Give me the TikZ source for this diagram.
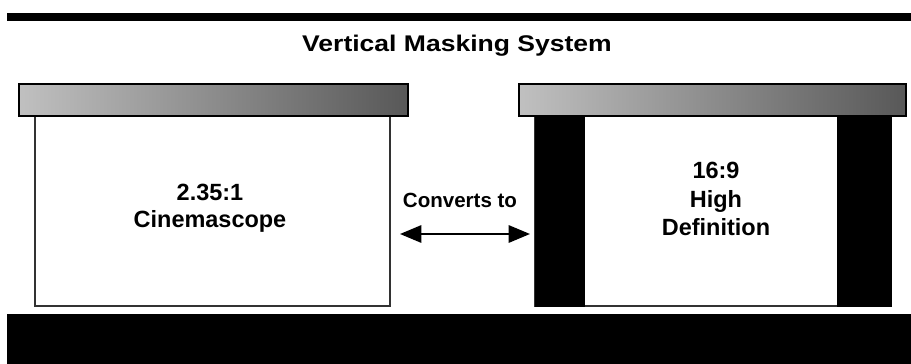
\documentclass[tikz,border=0pt]{standalone}
\usepackage{fontspec}
\setmainfont{Liberation Sans}
\usepackage{graphicx}
\usetikzlibrary{arrows.meta}

\definecolor{barlight}{RGB}{192,192,192}
\definecolor{bardark}{RGB}{88,88,88}
\definecolor{frame}{RGB}{50,50,50}

\tikzset{
  maskbar/.style={draw=black, line width=1.5pt, left color=barlight, right color=bardark},
  screen/.style={draw=frame, line width=1.5pt, fill=white},
  label/.style={inner sep=0.75pt, align=center, font=\bfseries\fontsize{17.6}{20.6}\selectfont}
}

\begin{document}
\begin{tikzpicture}[x=0.75pt,y=0.75pt,yscale=-1]
\useasboundingbox (0,0) rectangle (911,364);

%Shape: Rectangle [top rule]
\fill [black] (7,13) rectangle (911,21);
%Shape: Rectangle [bottom rule]
\fill [black] (7,314) rectangle (911,364);

%Shape: Rectangle [left screen]
\draw [screen] (35,116) rectangle (390,306);
%Shape: Rectangle [right screen]
\draw [screen] (535,116) rectangle (891,306);
%Shape: Rectangle [side masks]
\fill [black] (535,116) rectangle (585,307);
\fill [black] (837,116) rectangle (892,307);

%Shape: Rectangle [mask bars]
\draw [maskbar] (19,84) rectangle (408,116);
\draw [maskbar] (519,84) rectangle (906,116);

% Text Node
\node (title) at (457,46) [inner sep=0.75pt] {\scalebox{1.17}[1]{\bfseries\fontsize{17}{20}\selectfont Vertical Masking System}};
% Text Node
\node (scope) at (210,208) [label] {2.35:1\\Cinemascope};
% Text Node
\node (hidef) at (716,199) [label, font=\bfseries\fontsize{17.6}{21.4}\selectfont] {16:9\\High\\Definition};
% Text Node
\node (conv) at (460,200) [label, font=\bfseries\fontsize{15.4}{18}\selectfont] {Converts to};

%Left Right Arrow
\coordinate (arrL) at (400,234);
\coordinate (arrR) at (530,234);
\draw [line width=1.5pt, {Triangle[length=16pt,width=13pt]}-{Triangle[length=16pt,width=13pt]}] (arrL) -- (arrR);
\end{tikzpicture}
\end{document}
